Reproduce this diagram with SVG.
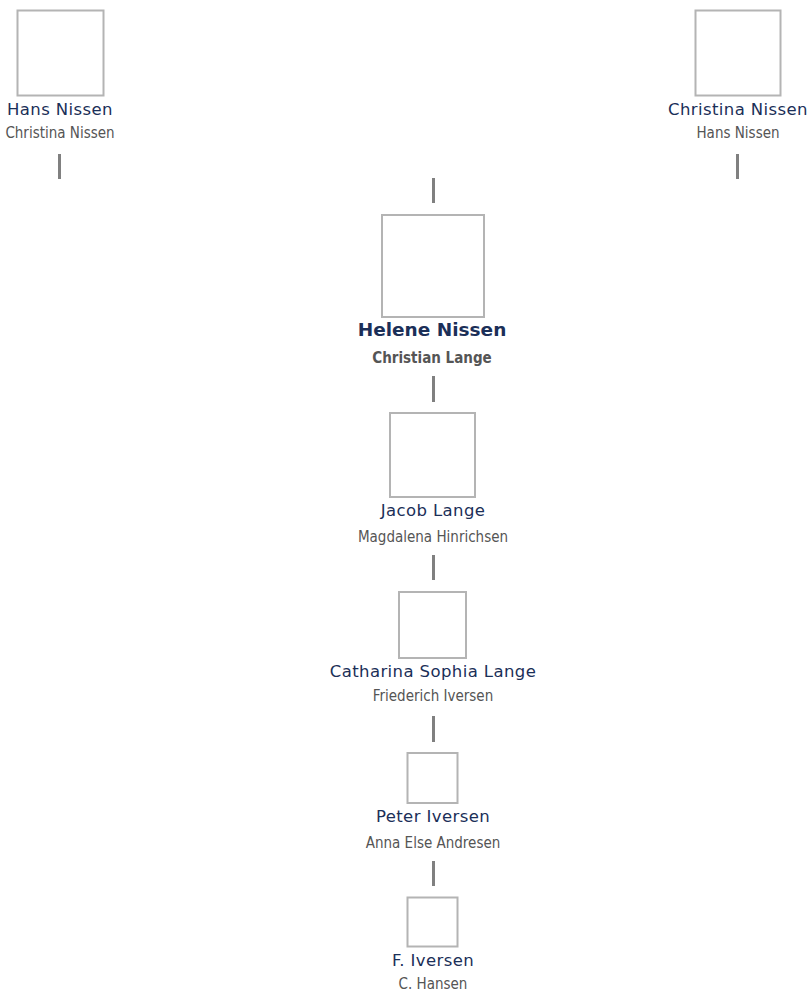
<svg xmlns="http://www.w3.org/2000/svg" width="809" height="993" viewBox="0 0 809 993">
<style>
.box{fill:#fff;stroke:#b4b4b4;stroke-width:2}
.name{font-family:'DejaVu Sans',Verdana,sans-serif;font-size:16.5px;letter-spacing:0.4px;fill:#1b2f58;text-anchor:middle}
.spouse{font-family:'DejaVu Sans Condensed','DejaVu Sans',sans-serif;font-stretch:condensed;font-size:15px;fill:#555;text-anchor:middle}
.main{font-weight:bold;font-size:18.5px;letter-spacing:0}
.mainsp{font-weight:bold;font-size:15px}
.link{stroke:#808080;stroke-width:3;fill:none}
</style>
<rect width="809" height="993" fill="#fff"/>
<g id="connectors">
<line class="link" x1="59.5" y1="154" x2="59.5" y2="179"/>
<line class="link" x1="737.5" y1="154" x2="737.5" y2="179"/>
<line class="link" x1="433.5" y1="178" x2="433.5" y2="203"/>
<line class="link" x1="433.5" y1="376" x2="433.5" y2="402"/>
<line class="link" x1="433.5" y1="555" x2="433.5" y2="580"/>
<line class="link" x1="433.5" y1="716" x2="433.5" y2="742"/>
<line class="link" x1="433.5" y1="861" x2="433.5" y2="886"/>
</g>
<g id="hans-nissen">
<rect class="box" x="17.5" y="10.5" width="86" height="85"/>
<text class="name" x="60" y="115">Hans Nissen</text>
<text class="spouse" x="60" y="138">Christina Nissen</text>
</g>
<g id="christina-nissen">
<rect class="box" x="695.5" y="10.5" width="85" height="85"/>
<text class="name" x="738" y="115">Christina Nissen</text>
<text class="spouse" x="738" y="138">Hans Nissen</text>
</g>
<g id="helene-nissen">
<rect class="box" x="382" y="215" width="102" height="102"/>
<text class="name main" x="432" y="336">Helene Nissen</text>
<text class="spouse mainsp" x="432" y="363">Christian Lange</text>
</g>
<g id="jacob-lange">
<rect class="box" x="390" y="413" width="85" height="84"/>
<text class="name" x="433" y="516">Jacob Lange</text>
<text class="spouse" x="433" y="542">Magdalena Hinrichsen</text>
</g>
<g id="catharina-sophia-lange">
<rect class="box" x="399" y="592" width="67" height="66"/>
<text class="name" x="433" y="677">Catharina Sophia Lange</text>
<text class="spouse" x="433" y="701">Friederich Iversen</text>
</g>
<g id="peter-iversen">
<rect class="box" x="407.5" y="753" width="50" height="50"/>
<text class="name" x="433" y="822">Peter Iversen</text>
<text class="spouse" x="433" y="848">Anna Else Andresen</text>
</g>
<g id="f-iversen">
<rect class="box" x="407.5" y="897.5" width="50" height="49"/>
<text class="name" x="433" y="966">F. Iversen</text>
<text class="spouse" x="433" y="989">C. Hansen</text>
</g>
</svg>
